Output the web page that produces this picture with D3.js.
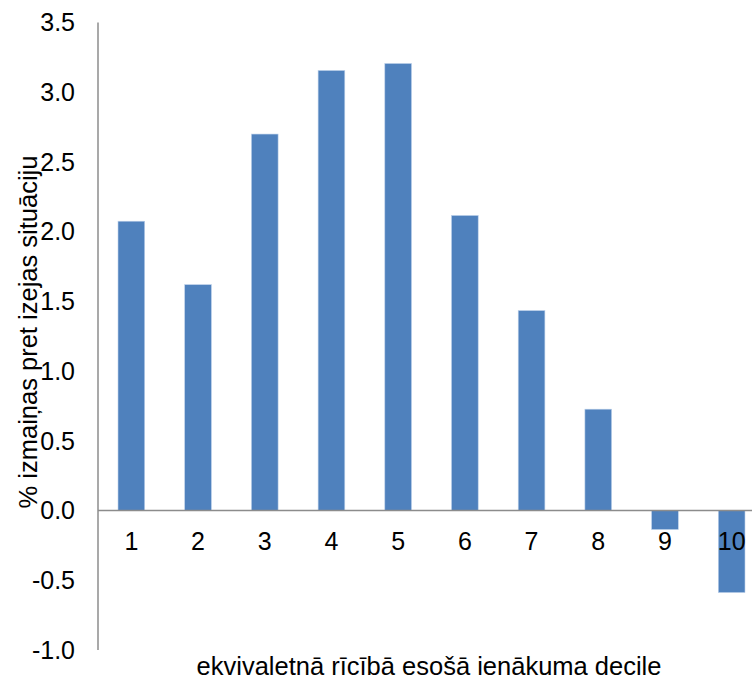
<!DOCTYPE html>
<html><head><meta charset="utf-8">
<script src="https://cdn.jsdelivr.net/npm/d3@7"></script>
<style>body{margin:0;background:#fff}svg{display:block}</style>
</head><body>
<svg id="c" width="752" height="682"></svg>
<script>
const categories = ["1","2","3","4","5","6","7","8","9","10"];
const values = [2.075, 1.62, 2.70, 3.156, 3.206, 2.116, 1.434, 0.727, -0.136, -0.588];
const yTicks = [-1.0, -0.5, 0.0, 0.5, 1.0, 1.5, 2.0, 2.5, 3.0, 3.5];
const yTitle = "% izmaiņas pret izejas situāciju";
const xTitle = "ekvivaletnā rīcībā esošā ienākuma decile";

const svg = d3.select("#c");
const font = "'Liberation Sans', Arial, sans-serif";
const x = d3.scaleBand().domain(categories).range([98, 765]).paddingInner(0.6).paddingOuter(0.3);
const y = d3.scaleLinear().domain([-1, 3.5]).range([650, 22.5]);

svg.append("g").selectAll("rect").data(values).join("rect")
  .attr("x", (d,i) => x(categories[i]))
  .attr("width", x.bandwidth())
  .attr("y", d => y(Math.max(0, d)))
  .attr("height", d => Math.abs(y(d) - y(0)))
  .attr("fill", "#4F81BD")
  .attr("stroke", "#BCD0EA").attr("stroke-width", 0.6);

// y axis
svg.append("line").attr("x1", 98).attr("x2", 98).attr("y1", y(3.5)).attr("y2", y(-1))
  .attr("stroke", "#8C8C8C").attr("stroke-width", 1.5);
// zero line
svg.append("line").attr("x1", 98).attr("x2", 765).attr("y1", y(0)).attr("y2", y(0))
  .attr("stroke", "#8C8C8C").attr("stroke-width", 1.5);

svg.append("g").selectAll("text").data(yTicks).join("text")
  .attr("x", 75).attr("y", d => y(d)).attr("dy", "0.35em")
  .attr("text-anchor", "end").attr("font-family", font).attr("font-size", 25)
  .text(d => d.toFixed(1));

svg.append("g").selectAll("text").data(categories).join("text")
  .attr("x", d => x(d) + x.bandwidth()/2).attr("y", 550)
  .attr("text-anchor", "middle").attr("font-family", font).attr("font-size", 25)
  .text(d => d);

svg.append("text").attr("transform", "translate(37,332) rotate(-90)")
  .attr("text-anchor", "middle").attr("font-family", font).attr("font-size", 25.5)
  .text(yTitle);

svg.append("text").attr("x", 429).attr("y", 675)
  .attr("text-anchor", "middle").attr("font-family", font).attr("font-size", 25.5)
  .text(xTitle);
</script>
</body></html>
